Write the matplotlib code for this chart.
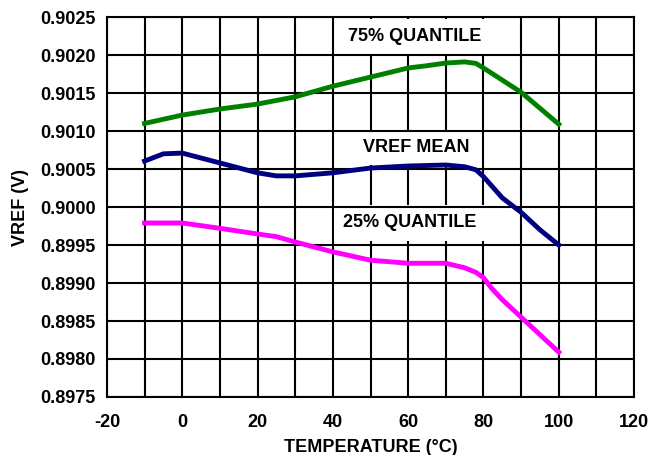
import numpy as np
import matplotlib.pyplot as plt
from matplotlib.ticker import MultipleLocator, FormatStrFormatter

plt.rcParams['font.family'] = ['Liberation Sans', 'DejaVu Sans']
plt.rcParams['font.weight'] = 'bold'
plt.rcParams['axes.unicode_minus'] = False

#temperature points
temp_q75 = [-10, 0, 10, 20, 30, 40, 50, 60, 65, 70, 75, 78, 80, 85, 90, 100]
vref_q75 = [0.90110, 0.90121, 0.90129, 0.901355, 0.90145, 0.90159, 0.90171, 0.90183,
            0.90186, 0.901895, 0.90191, 0.90189, 0.90183, 0.90167, 0.90151, 0.90109]

temp_mean = [-10, -5, 0, 5, 10, 20, 25, 30, 40, 50, 60, 70, 75, 78, 80, 85, 90, 95, 100]
vref_mean = [0.900605, 0.90070, 0.90071, 0.900645, 0.90058, 0.90045, 0.90041, 0.90041,
             0.90045, 0.900513, 0.90054, 0.900553, 0.90053, 0.90049, 0.90040, 0.90012,
             0.89993, 0.89970, 0.89950]

temp_q25 = [-10, 0, 10, 20, 25, 30, 40, 50, 60, 70, 75, 78, 80, 82, 85, 90, 95, 100]
vref_q25 = [0.89979, 0.89979, 0.89972, 0.899645, 0.89961, 0.89954, 0.89941, 0.89930,
            0.89926, 0.89926, 0.89920, 0.89914, 0.89907, 0.89894, 0.89878, 0.89855,
            0.89832, 0.89809]

labels = ["75% QUANTILE", "VREF MEAN", "25% QUANTILE"]
label_pos = [(61.6, 0.90224), (62.2, 0.90078), (60.3, 0.89979)]


fig = plt.figure(figsize=(6.64, 4.55), dpi=100)
ax = fig.add_axes([0.161, 0.1275, 0.794, 0.835])

ax.plot(temp_q75, vref_q75, color='#008000', linewidth=3.5, zorder=3)
ax.plot(temp_mean, vref_mean, color='#000080', linewidth=3.5, zorder=3)
ax.plot(temp_q25, vref_q25, color='#ff00ff', linewidth=3.5, zorder=3)

for txt, (x, y) in zip(labels, label_pos):
    ax.text(x, y, txt, ha='center', va='center', fontsize=13, fontweight='bold', zorder=2,
            bbox=dict(boxstyle='square,pad=0.5', facecolor='white', edgecolor='none'))

ax.set_xlim(-20, 120)
ax.set_ylim(0.8975, 0.9025)
ax.xaxis.set_major_locator(MultipleLocator(20))
ax.xaxis.set_minor_locator(MultipleLocator(10))
ax.yaxis.set_major_locator(MultipleLocator(0.0005))
ax.yaxis.set_major_formatter(FormatStrFormatter('%.4f'))

ax.grid(which='both', color='black', linewidth=1.5)
ax.set_axisbelow(True)
# vertical lines sit under the label boxes, horizontal ones over them
ax.xaxis.set_zorder(1)
ax.yaxis.set_zorder(2.5)
for s in ax.spines.values():
    s.set_linewidth(1.5)
    s.set_zorder(4)

ax.tick_params(which='both', length=0)
ax.tick_params(axis='y', pad=8, labelsize=13)
ax.tick_params(axis='x', pad=12, labelsize=13)

ax.set_xlabel("TEMPERATURE (°C)", fontsize=13, fontweight='bold', labelpad=6)
ax.set_ylabel("VREF (V)", fontsize=13, fontweight='bold', labelpad=8)

fig.savefig("out.png")
